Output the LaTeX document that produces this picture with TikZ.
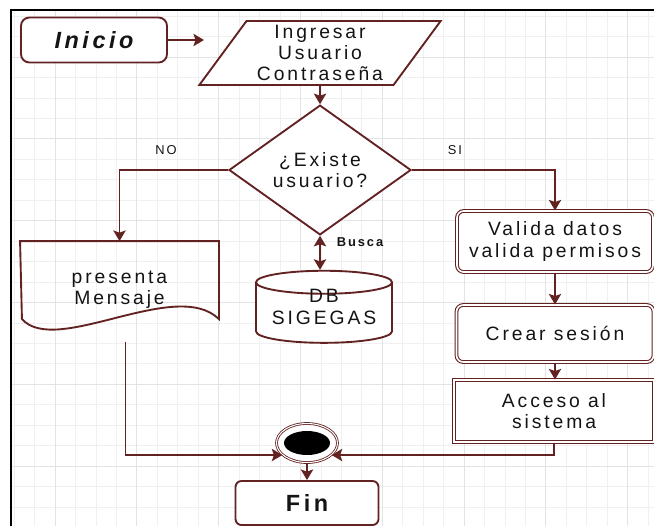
\documentclass[tikz,border=0pt]{standalone}
\usepackage{fontspec}
\setmainfont{Liberation Sans}[LetterSpace=15]
\usetikzlibrary{shapes.geometric,arrows.meta,calc}
\definecolor{borde}{RGB}{98,34,34}
\definecolor{texto}{RGB}{20,20,20}

\begin{document}
\begin{tikzpicture}
    [
    x=0.03cm, y=-0.03cm, line width=1.6pt
    , every node/.style = {text=texto, font=\fontsize{16.5}{18}\selectfont, align=center, inner sep=0pt}
    , punta/.tip = {Stealth[length=9pt,width=10.5pt,inset=1.8pt]}
    , flecha/.style = {draw=borde, -punta}
    , terminal/.style = {draw=borde, fill=white, rounded corners=0.25cm, font=\fontsize{20}{24}\selectfont\bfseries}
    , proceso/.style = {draw=borde, fill=white, line width=0.9pt, double=white, double distance=1.4pt}
    , etiqueta/.style = {font=\fontsize{11}{13}\selectfont}
    , rejilla/.style = {gray!12, line width=0.6pt}
    , rejillamayor/.style = {gray!22, line width=0.8pt}
    ]
\useasboundingbox (0,0) rectangle (654,526);

% cuadricula de fondo
\foreach \i in {-2,...,29}
    \draw[rejilla] ({55+\i*20.45},10) -- ({55+\i*20.45},526);
\foreach \i in {-2,...,22}
    \draw[rejilla] (11,{57+\i*20.45}) -- (654,{57+\i*20.45});
\foreach \i in {0,4,...,28}
    \draw[rejillamayor] ({55+\i*20.45},10) -- ({55+\i*20.45},526);
\foreach \i in {0,4,...,20}
    \draw[rejillamayor] (11,{57+\i*20.45}) -- (654,{57+\i*20.45});
\draw[black, line width=1.5pt] (11,526) -- (11,10) -- (654,10);

\node[terminal, minimum width=4.38cm, minimum height=1.35cm, font=\fontsize{20}{24}\selectfont\bfseries\itshape] (inicio) at (94,40) {Inicio};
\coordinate (entrada) at (204,40);

\node[trapezium, trapezium left angle=54, trapezium right angle=126, trapezium stretches=true,
      draw=borde, fill=white, minimum width=7.26cm, minimum height=1.92cm] (ingreso) at (320,53)
      {Ingresar\\Usuario\\Contraseña};

\node[diamond, draw=borde, fill=white, minimum width=5.46cm, minimum height=3.24cm] (existe) at (320,170)
      {¿Existe\\usuario?};

%documento con borde ondulado
\node[minimum width=5.91cm, minimum height=2.88cm] (msg) at (119.5,290) {presenta\\Mensaje};
\draw[borde] (msg.north west) -- (msg.north east) -- ++(0,78)
    .. controls +(-43,-42) and +(34,38) .. ++(-197,0) -- cycle;

\node[cylinder, shape border rotate=90, aspect=0.22, draw=borde, fill=white,
      minimum width=4.08cm, minimum height=2.04cm, text height=0.88cm, text depth=0.22cm]
      (db) at (324,313) {DB\\SIGEGAS};

\node[proceso, rounded corners=0.2cm, minimum width=5.88cm, minimum height=1.83cm] (valida) at (555,241.5)
      {Valida datos\\valida permisos};
\node[proceso, rounded corners=0.2cm, minimum width=5.91cm, minimum height=1.71cm] (crear) at (555,333.5)
      {Crear sesión};
\node[proceso, minimum width=6.0cm, minimum height=1.86cm] (acceso) at (554,411)
      {Acceso al\\sistema};

\node[ellipse, draw=borde, line width=0.7pt, double=white, double distance=0.9pt, fill=white,
      minimum width=1.83cm, minimum height=1.17cm,
      path picture={\fill[black] (path picture bounding box.center) ellipse [x radius=0.69cm, y radius=0.36cm];}]
      (merge) at (307,443) {};

\node[terminal, rounded corners=0.18cm, minimum width=4.29cm, minimum height=1.32cm] (fin) at (307,503) {Fin};

\draw[flecha] (inicio) -- (entrada);
\draw[flecha] (ingreso) -- (existe);
\draw[flecha] (existe.west) -| (msg.north);
\draw[flecha] (existe.east) -| (valida.north);
\draw[draw=borde, punta-punta] (existe.south) -- (existe.south |- db.north);
\draw[flecha] (valida) -- (crear);
\draw[flecha] (crear) -- (crear.south |- acceso.north);
\draw[flecha] ($(msg.south)+(6,3)$) |- (merge.206);
\draw[flecha] (acceso.south) |- (merge.334);
\draw[flecha] (merge) -- (fin);

\node[etiqueta] (no) at (166,150) {NO};
\node[etiqueta] (si) at (455,150) {SI};
\node[etiqueta, font=\fontsize{11}{13}\selectfont\bfseries] (busca) at (360,242) {Busca};
\end{tikzpicture}
\end{document}
